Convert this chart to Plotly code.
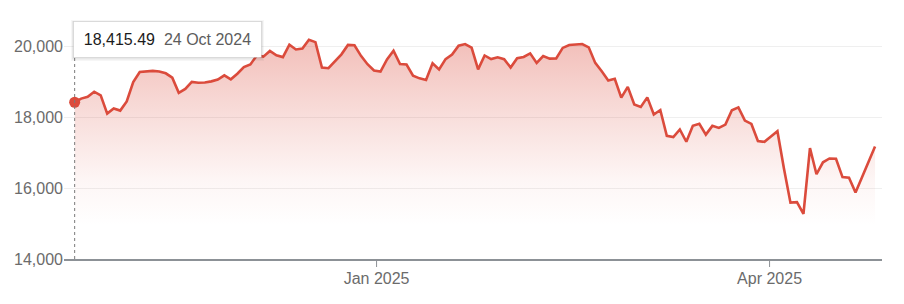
import numpy as np
import pandas as pd
import plotly.graph_objects as go

# ---------------- data ----------------
dates = [
    "2024-10-24", "2024-10-25", "2024-10-28", "2024-10-29", "2024-10-30", "2024-10-31",
    "2024-11-01", "2024-11-04", "2024-11-05", "2024-11-06", "2024-11-07", "2024-11-08",
    "2024-11-11", "2024-11-12", "2024-11-13", "2024-11-14", "2024-11-15", "2024-11-18",
    "2024-11-19", "2024-11-20", "2024-11-21", "2024-11-22", "2024-11-25", "2024-11-26",
    "2024-11-27", "2024-11-29",
    "2024-12-02", "2024-12-03", "2024-12-04", "2024-12-05", "2024-12-06", "2024-12-09",
    "2024-12-10", "2024-12-11", "2024-12-12", "2024-12-13", "2024-12-16", "2024-12-17",
    "2024-12-18", "2024-12-19", "2024-12-20", "2024-12-23", "2024-12-24", "2024-12-26",
    "2024-12-27", "2024-12-30", "2024-12-31",
    "2025-01-02", "2025-01-03", "2025-01-06", "2025-01-07", "2025-01-08", "2025-01-10",
    "2025-01-13", "2025-01-14", "2025-01-15", "2025-01-16", "2025-01-17", "2025-01-21",
    "2025-01-22", "2025-01-23", "2025-01-24", "2025-01-27", "2025-01-28", "2025-01-29",
    "2025-01-30", "2025-01-31",
    "2025-02-03", "2025-02-04", "2025-02-05", "2025-02-06", "2025-02-07", "2025-02-10",
    "2025-02-11", "2025-02-12", "2025-02-13", "2025-02-14", "2025-02-18", "2025-02-19",
    "2025-02-20", "2025-02-21", "2025-02-24", "2025-02-25", "2025-02-26", "2025-02-27",
    "2025-02-28",
    "2025-03-03", "2025-03-04", "2025-03-05", "2025-03-06", "2025-03-07", "2025-03-10",
    "2025-03-11", "2025-03-12", "2025-03-13", "2025-03-14", "2025-03-17", "2025-03-18",
    "2025-03-19", "2025-03-20", "2025-03-21", "2025-03-24", "2025-03-25", "2025-03-26",
    "2025-03-27", "2025-03-28", "2025-03-31",
    "2025-04-01", "2025-04-02", "2025-04-03", "2025-04-04", "2025-04-07", "2025-04-08",
    "2025-04-09", "2025-04-10", "2025-04-11", "2025-04-14", "2025-04-15", "2025-04-16",
    "2025-04-17", "2025-04-21", "2025-04-22", "2025-04-23", "2025-04-24",
]

values = [
    18415.49, 18518.61, 18567.19, 18712.75, 18607.93, 18095.15,
    18239.92, 18179.98, 18439.17, 18983.47, 19269.46, 19286.78,
    19298.76, 19281.40, 19230.72, 19107.65, 18680.12, 18791.81,
    18987.47, 18966.14, 18972.42, 19003.65, 19054.84, 19174.30,
    19060.48, 19218.17,
    19403.95, 19480.91, 19735.12, 19700.71, 19859.77, 19736.69,
    19687.24, 20034.89, 19902.84, 19926.72, 20173.89, 20109.06,
    19392.69, 19372.77, 19572.60, 19764.89, 20031.13, 20020.36,
    19722.03, 19486.79, 19310.79,
    19280.79, 19621.68, 19864.98, 19489.68, 19478.88, 19161.63,
    19088.10, 19044.39, 19511.23, 19338.29, 19630.20, 19756.78,
    20009.34, 20053.68, 19954.30, 19341.83, 19733.59, 19632.32,
    19681.75, 19627.44,
    19391.96, 19654.02, 19692.33, 19791.99, 19523.40, 19714.27,
    19643.86, 19649.95, 19945.64, 20026.77, 20041.26, 20056.25,
    19962.36, 19524.01, 19286.93, 19026.39, 19075.26, 18544.42,
    18847.28,
    18350.19, 18285.16, 18552.73, 18069.26, 18196.22, 17468.32,
    17436.10, 17648.45, 17303.01, 17754.09, 17808.66, 17504.12,
    17750.79, 17691.63, 17784.05, 18188.59, 18271.86, 17899.01,
    17804.03, 17322.99, 17299.29,
    17449.89, 17601.05, 16550.61, 15587.79, 15603.26, 15267.91,
    17124.97, 16387.31, 16724.46, 16831.48, 16823.17, 16307.16,
    16286.45, 15870.90, 16300.42, 16708.05, 17166.04,
]

x_tick_dates = ["2025-01-01", "2025-04-01"]
x_tick_labels = ["Jan 2025", "Apr 2025"]
y_tick_values = [14000, 16000, 18000, 20000]

# ---------------- layout constants ----------------
W, H = 904, 304
ML, MR, MT, MB = 64, 22, 10, 45
PW, PH = W - ML - MR, H - MT - MB

LINE = "#db4b3c"
AXIS = "#8c9196"
FONT = "Liberation Sans, Arial, Helvetica, sans-serif"

# ordinal (trading-day) x axis
idx = np.arange(len(values))
ts = pd.to_datetime(dates) + pd.Timedelta(hours=5)
tick_ts = pd.to_datetime(x_tick_dates)
tickvals = np.interp(tick_ts.asi8, ts.asi8, idx)

fig = go.Figure()

fig.add_trace(go.Scatter(
    x=idx, y=values, mode="lines",
    line=dict(color=LINE, width=2.6),
    fill="tozeroy",
    fillgradient=dict(
        type="vertical", start=14000, stop=20300,
        colorscale=[[0, "rgba(219,75,60,0)"], [0.15, "rgba(219,75,60,0.0)"],
                    [0.35, "rgba(219,75,60,0.05)"], [0.65, "rgba(219,75,60,0.19)"],
                    [1, "rgba(219,75,60,0.37)"]],
    ),
    hoverinfo="skip", showlegend=False,
))

fig.add_trace(go.Scatter(
    x=[idx[0]], y=[values[0]], mode="markers",
    marker=dict(size=11, color=LINE, line=dict(width=0)),
    hoverinfo="skip", showlegend=False, cliponaxis=False,
))

def px_to_paper_x(px):
    return (px - ML) / PW

def px_to_paper_y(py):
    return (H - MB - py) / PH

tip_l, tip_r, tip_t, tip_b = 73, 262, 21, 58

d0 = pd.Timestamp(dates[0])
tip_text = (f"<span style='color:#1c1c1c'>{values[0]:,.2f}</span>\u00a0\u00a0"
            f"<span style='color:#5c5c5c'>{d0.day} {d0.strftime('%b %Y')}</span>")

shapes = [
    dict(type="line", xref="x", yref="paper", x0=idx[0], x1=idx[0],
         y0=0, y1=px_to_paper_y(tip_b), line=dict(color="#7a7a7a", width=1, dash="dot")),
    dict(type="rect", xref="paper", yref="paper",
         x0=px_to_paper_x(tip_l - 2), x1=px_to_paper_x(tip_r + 2),
         y0=px_to_paper_y(tip_b + 3), y1=px_to_paper_y(tip_t - 1),
         fillcolor="rgba(0,0,0,0.035)", line=dict(width=0)),
    dict(type="rect", xref="paper", yref="paper",
         x0=px_to_paper_x(tip_l - 1), x1=px_to_paper_x(tip_r + 1),
         y0=px_to_paper_y(tip_b + 1.5), y1=px_to_paper_y(tip_t),
         fillcolor="rgba(0,0,0,0.06)", line=dict(width=0)),
]
# x-axis tick marks drawn below the axis line
for tv in tickvals:
    shapes.append(dict(type="line", xref="x", yref="paper", x0=tv, x1=tv,
                       y0=0, y1=-8 / PH, line=dict(color=AXIS, width=1)))

fig.add_annotation(
    xref="paper", yref="paper",
    x=px_to_paper_x(tip_l), y=px_to_paper_y(tip_t),
    xanchor="left", yanchor="top",
    text=tip_text, showarrow=False,
    width=tip_r - tip_l - 2, height=tip_b - tip_t - 2,
    align="center", valign="middle",
    bgcolor="white", bordercolor="rgba(0,0,0,0.10)", borderwidth=1, borderpad=0,
    font=dict(family=FONT, size=16, color="#1c1c1c"),
)

fig.update_layout(
    width=W, height=H,
    margin=dict(l=ML, r=MR, t=MT, b=MB),
    paper_bgcolor="white", plot_bgcolor="white",
    font=dict(family=FONT, size=16, color="#6b6b6b"),
    shapes=shapes,
    hovermode=False,
    xaxis=dict(
        range=[-1.64, 124.07],
        tickmode="array", tickvals=tickvals, ticktext=x_tick_labels,
        ticks="", ticklabelstandoff=4,
        showline=True, linecolor=AXIS, linewidth=2,
        showgrid=False, zeroline=False,
        tickfont=dict(family=FONT, size=16, color="#6b6b6b"),
    ),
    yaxis=dict(
        range=[14000, 21014],
        tickmode="array", tickvals=y_tick_values, tickformat=",d",
        showgrid=True, gridcolor="#efefef", gridwidth=1,
        zeroline=False, showline=False, ticks="",
        tickfont=dict(family=FONT, size=16, color="#6b6b6b"),
    ),
)

fig.write_html("out.html")
